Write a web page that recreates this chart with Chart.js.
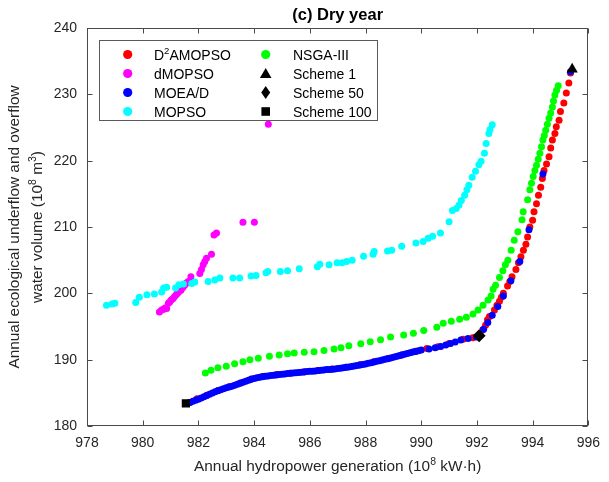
<!DOCTYPE html>
<html><head><meta charset="utf-8">
<script src="https://cdn.jsdelivr.net/npm/chart.js@4.4.1/dist/chart.umd.min.js"></script>
<style>html,body{margin:0;padding:0;background:#fff}canvas{display:block}</style>
</head><body>
<canvas id="c" width="609" height="482"></canvas>
<script>
const xTicks = [978,980,982,984,986,988,990,992,994,996];
const yTicks = [180,190,200,210,220,230,240];

const seriesNames = ['D2AMOPSO','dMOPSO','MOEA/D','MOPSO','NSGA-III','Scheme 1','Scheme 50','Scheme 100'];

const d2amopsoX = [981.65,981.95,982.3,982.7,983.1,983.5,983.9,984.3,984.8,985.3,985.8,986.3,986.8,987.3,987.8,988.3,988.8,989.3,989.8,990.2,990.6,991.0,991.5,991.85,992.12,
  992.21,992.31,992.38,992.45,992.63,992.72,992.81,992.88,992.95,993.1,993.18,993.26,993.4,993.49,993.58,993.67,993.76,993.82,993.9,994.0,994.05,994.14,994.21,994.29,994.35,994.41,994.5,994.59,994.65,994.71,994.8,994.85,994.95,995.0,995.12,995.21,995.3,995.36];
const d2amopsoY = [183.5,184.1,184.65,185.35,185.9,186.5,187.1,187.45,187.75,187.97,188.17,188.38,188.58,188.86,189.22,189.68,190.18,190.72,191.28,191.7,191.95,192.45,193.07,193.32,193.9,
  194.5,195.2,196.0,196.5,197.5,198.2,198.8,199.4,200.0,201.1,201.8,202.5,203.6,204.6,205.5,206.5,207.4,208.5,210.0,211.0,212.3,213.5,214.8,216.0,217.3,218.5,219.5,220.6,221.9,223.1,224.1,225.1,226.1,227.4,228.7,230.2,231.7,233.2];

const dmopsoX = [980.6,980.68,980.75,980.8,980.86,980.92,980.97,981.02,981.08,981.14,981.2,981.25,981.32,981.38,981.45,981.52,981.58,981.64,981.73,982.05,982.11,982.17,982.23,982.29,982.47,982.56,982.65,983.6,984.01,984.51];
const dmopsoY = [197.2,197.5,197.6,197.8,197.7,198.5,198.7,199.0,199.2,199.5,199.8,200.0,200.3,200.5,200.9,201.3,201.6,201.8,202.5,203.0,203.6,204.3,204.8,205.3,205.9,208.8,209.1,210.7,210.7,225.5];

const moeadX = [981.60,981.70,981.80,981.90,982.00,982.10,982.20,982.30,982.40,982.50,982.60,982.70,982.80,982.90,983.00,983.10,983.20,983.30,983.40,983.50,983.60,983.70,983.80,983.90,984.00,984.10,984.20,984.30,984.40,984.50,984.60,984.70,984.80,984.90,985.00,985.10,985.20,985.30,985.40,985.50,985.60,985.70,985.80,985.90,986.00,986.10,986.20,986.30,986.40,986.50,986.60,986.70,986.80,986.90,987.00,987.10,987.20,987.30,987.40,987.50,987.60,987.70,987.80,987.90,988.00,988.10,988.20,988.30,988.40,988.50,988.60,988.70,988.80,988.90,989.00,989.10,989.20,989.30,989.40,989.50,989.60,989.70,989.80,989.90,990.00,990.28,990.50,990.70,990.88,991.05,991.22,991.42,991.68,991.98,
  992.24,992.39,992.55,992.75,992.95,993.22,993.54,993.87,994.37,995.36];
const moeadY = [183.40,183.55,183.72,183.88,184.05,184.22,184.40,184.58,184.78,184.97,185.15,185.30,185.45,185.60,185.75,185.88,186.00,186.15,186.30,186.45,186.60,186.75,186.90,187.03,187.15,187.26,187.35,187.43,187.50,187.55,187.60,187.66,187.70,187.75,187.80,187.85,187.90,187.95,188.00,188.02,188.06,188.10,188.15,188.20,188.25,188.27,188.31,188.36,188.40,188.45,188.50,188.52,188.56,188.60,188.66,188.72,188.80,188.85,188.91,188.98,189.05,189.12,189.20,189.28,189.35,189.45,189.55,189.65,189.75,189.85,189.95,190.05,190.15,190.25,190.35,190.47,190.60,190.70,190.80,190.92,191.05,191.15,191.25,191.35,191.45,191.62,191.80,192.00,192.22,192.45,192.68,192.95,193.20,193.40,
  194.6,195.6,196.7,198.0,199.6,201.9,204.8,209.6,218.0,233.4];

const mopsoX = [978.7,978.9,979.0,979.75,979.88,980.15,980.42,980.68,980.75,980.86,981.18,981.3,981.46,981.76,981.87,982.35,982.59,982.77,983.24,983.48,983.89,984.07,984.43,984.49,984.94,985.2,985.62,986.27,986.36,986.69,986.98,987.16,987.32,987.52,987.93,988.27,988.31,988.79,988.94,989.3,989.81,990.07,990.25,990.41,990.69,991.0,991.12,991.26,991.36,991.44,991.56,991.64,991.71,991.83,991.95,992.07,992.15,992.27,992.33,992.43,992.47,992.55];
const mopsoY = [198.2,198.4,198.5,198.6,199.4,199.8,199.9,200.2,200.8,200.9,200.8,201.3,201.4,201.5,201.7,201.8,202.0,202.3,202.3,202.3,202.6,202.7,203.1,203.3,203.3,203.4,203.7,204.0,204.4,204.3,204.6,204.6,204.8,205.0,205.6,205.9,206.3,206.4,206.5,207.1,207.6,207.8,208.3,208.6,209.1,210.8,212.5,212.8,213.3,214.0,214.8,215.6,216.3,217.5,218.4,219.4,219.9,221.1,222.6,224.1,224.7,225.4];

const nsga3X = [982.25,982.45,982.7,983.0,983.3,983.6,983.85,984.15,984.55,984.9,985.2,985.44,985.8,986.15,986.51,986.87,987.12,987.4,987.83,988.17,988.54,988.9,989.37,989.72,990.09,990.56,990.79,991.08,991.38,991.62,991.86,992.04,992.22,992.4,992.51,992.58,992.67,992.81,992.93,993.02,993.11,993.23,993.34,993.47,993.62,993.66,993.82,993.9,993.96,994.02,994.08,994.14,994.2,994.26,994.32,994.37,994.42,994.47,994.53,994.59,994.65,994.71,994.75,994.8,994.86,994.92];
const nsga3Y = [188.0,188.4,188.8,189.0,189.4,189.7,190.0,190.2,190.5,190.7,190.9,191.0,191.1,191.2,191.4,191.6,191.8,192.1,192.4,192.7,193.0,193.4,193.7,194.0,194.4,194.9,195.5,195.8,196.1,196.4,196.9,197.5,198.2,199.0,199.6,200.6,201.2,202.4,203.4,204.3,205.0,206.5,208.0,209.3,211.1,212.3,214.1,215.6,216.6,217.6,218.5,219.3,220.2,221.1,222.1,223.1,223.8,224.6,225.5,226.4,227.2,228.1,229.0,229.9,230.6,231.3];

const scheme1X = [995.42], scheme1Y = [233.8];
const scheme50X = [992.08], scheme50Y = [193.6];
const scheme100X = [981.55], scheme100Y = [183.4];

const pts = (xs, ys) => xs.map((x, i) => ({x, y: ys[i]}));
const FONT = "'Liberation Sans', Arial, Helvetica, sans-serif";
const R = 3.5;

const datasets = [
  {label: seriesNames[0], data: pts(d2amopsoX, d2amopsoY), backgroundColor: '#ff0000', order: 5, pointStyle: 'circle', pointRadius: R},
  {label: seriesNames[1], data: pts(dmopsoX, dmopsoY), backgroundColor: '#ff00ff', order: 4, pointStyle: 'circle', pointRadius: R},
  {label: seriesNames[2], data: pts(moeadX, moeadY), backgroundColor: '#0000ff', order: 3, pointStyle: 'circle', pointRadius: R},
  {label: seriesNames[3], data: pts(mopsoX, mopsoY), backgroundColor: '#00ffff', order: 2, pointStyle: 'circle', pointRadius: R},
  {label: seriesNames[4], data: pts(nsga3X, nsga3Y), backgroundColor: '#00ff00', order: 1, pointStyle: 'circle', pointRadius: R},
  {label: seriesNames[5], data: pts(scheme1X, scheme1Y), backgroundColor: '#000', order: 0, pointStyle: 'triangle', pointRadius: 6.5},
  {label: seriesNames[6], data: pts(scheme50X, scheme50Y), backgroundColor: '#000', order: 0, pointStyle: 'rectRot', pointRadius: 6.5},
  {label: seriesNames[7], data: pts(scheme100X, scheme100Y), backgroundColor: '#000', order: 0, pointStyle: 'rect', pointRadius: 5.8}
];
datasets.forEach(d => { d.borderWidth = 0; d.pointHoverRadius = d.pointRadius; d.borderColor = d.backgroundColor; });

function drawRich(ctx, parts, x, y, size, align) {
  const sup = size * 0.68;
  let w = 0;
  parts.forEach(p => { ctx.font = (p.s ? sup : size) + 'px ' + FONT; w += ctx.measureText(p.t).width; });
  let cx = align === 'center' ? x - w / 2 : x;
  ctx.textAlign = 'left'; ctx.textBaseline = 'alphabetic';
  parts.forEach(p => {
    ctx.font = (p.s ? sup : size) + 'px ' + FONT;
    ctx.fillText(p.t, cx, p.s ? y - size * 0.42 : y);
    cx += ctx.measureText(p.t).width;
  });
}

const legendItems = [
  {parts: [{t:'D'},{t:'2',s:true},{t:'AMOPSO'}], color:'#ff0000', style:'circle'},
  {parts: [{t:'dMOPSO'}], color:'#ff00ff', style:'circle'},
  {parts: [{t:'MOEA/D'}], color:'#0000ff', style:'circle'},
  {parts: [{t:'MOPSO'}], color:'#00ffff', style:'circle'},
  {parts: [{t:'NSGA-III'}], color:'#00ff00', style:'circle'},
  {parts: [{t:'Scheme 1'}], color:'#000', style:'triangle'},
  {parts: [{t:'Scheme 50'}], color:'#000', style:'diamond'},
  {parts: [{t:'Scheme 100'}], color:'#000', style:'square'}
];

const decor = {
  id: 'decor',
  beforeDraw(chart) {
    const ctx = chart.ctx;
    ctx.save(); ctx.fillStyle = '#fff'; ctx.fillRect(0, 0, chart.width, chart.height); ctx.restore();
  },
  afterDraw(chart) {
    const ctx = chart.ctx, a = chart.chartArea, xs = chart.scales.x, ys = chart.scales.y;
    ctx.save();
    ctx.strokeStyle = '#4a4a4a'; ctx.lineWidth = 1;
    const L = Math.round(a.left) + 0.5, Rr = Math.round(a.right) - 0.5, T = Math.round(a.top) + 0.5, B = Math.round(a.bottom) - 0.5;
    ctx.strokeRect(L, T, Rr - L, B - T);
    ctx.beginPath();
    xTicks.forEach(v => {
      const px = Math.round(xs.getPixelForValue(v)) + 0.5;
      ctx.moveTo(px, B); ctx.lineTo(px, B - 5);
      ctx.moveTo(px, T); ctx.lineTo(px, T + 5);
    });
    yTicks.forEach(v => {
      const py = Math.round(ys.getPixelForValue(v)) + 0.5;
      ctx.moveTo(L, py); ctx.lineTo(L + 5, py);
      ctx.moveTo(Rr, py); ctx.lineTo(Rr - 5, py);
    });
    ctx.stroke();

    ctx.fillStyle = '#000';
    ctx.font = 'bold 16.5px ' + FONT; ctx.textAlign = 'center'; ctx.textBaseline = 'alphabetic';
    ctx.fillText('(c) Dry year', (a.left + a.right) / 2, 20);

    ctx.fillStyle = '#262626';
    drawRich(ctx, [{t:'Annual hydropower generation (10'},{t:'8',s:true},{t:' kW\u00b7h)'}], (a.left + a.right) / 2, 471, 15.4, 'center');
    ctx.save();
    ctx.translate(0, (a.top + a.bottom) / 2);
    ctx.rotate(-Math.PI / 2);
    drawRich(ctx, [{t:'Annual ecological underflow and overflow'}], 0, 19, 15.4, 'center');
    drawRich(ctx, [{t:'water volume (10'},{t:'8',s:true},{t:' m'},{t:'3',s:true},{t:')'}], 0, 42, 15.4, 'center');
    ctx.restore();

    const bx = 99.5, by = 40.5, bw = 278, bh = 80;
    ctx.fillStyle = '#fff'; ctx.fillRect(bx, by, bw, bh);
    ctx.strokeStyle = '#5a5a5a'; ctx.strokeRect(bx, by, bw, bh);
    const rowsY = [54.5, 73.5, 92.5, 111.5];
    const cols = [{mx: 127.7, tx: 154}, {mx: 265.7, tx: 293}];
    legendItems.forEach((it, i) => {
      const col = cols[Math.floor(i / 4)], y = rowsY[i % 4];
      ctx.fillStyle = it.color;
      ctx.beginPath();
      if (it.style === 'circle') { ctx.arc(col.mx, y, 4.6, 0, Math.PI * 2); }
      else if (it.style === 'triangle') { ctx.moveTo(col.mx, y - 5.5); ctx.lineTo(col.mx + 5.8, y + 4.5); ctx.lineTo(col.mx - 5.8, y + 4.5); ctx.closePath(); }
      else if (it.style === 'diamond') { ctx.moveTo(col.mx, y - 6.5); ctx.lineTo(col.mx + 4.5, y); ctx.lineTo(col.mx, y + 6.5); ctx.lineTo(col.mx - 4.5, y); ctx.closePath(); }
      else { ctx.rect(col.mx - 4.3, y - 4.3, 8.6, 8.6); }
      ctx.fill();
      ctx.fillStyle = '#000';
      drawRich(ctx, it.parts, col.tx, y + 5, 14, 'left');
    });
    ctx.restore();
  }
};

const tickFont = {family: FONT, size: 14};
new Chart(document.getElementById('c'), {
  type: 'scatter',
  data: {datasets},
  options: {
    responsive: false, animation: false, devicePixelRatio: 1,
    layout: {padding: {left: 0, right: 16, top: 28, bottom: 0}},
    plugins: {legend: {display: false}, tooltip: {enabled: false}, title: {display: false}},
    events: [],
    scales: {
      x: {
        type: 'linear', min: 978, max: 996,
        afterBuildTicks: s => { s.ticks = xTicks.map(v => ({value: v})); },
        afterFit: s => { s.height = 56; },
        grid: {display: false, drawTicks: false}, border: {display: false},
        ticks: {padding: 9, color: '#262626', font: tickFont, maxRotation: 0, autoSkip: false}
      },
      y: {
        type: 'linear', min: 180, max: 240,
        afterBuildTicks: s => { s.ticks = yTicks.map(v => ({value: v})); },
        afterFit: s => { s.width = 87; },
        grid: {display: false, drawTicks: false}, border: {display: false},
        ticks: {padding: 10, color: '#262626', font: tickFont, autoSkip: false}
      }
    }
  },
  plugins: [decor]
});
</script>
</body></html>
